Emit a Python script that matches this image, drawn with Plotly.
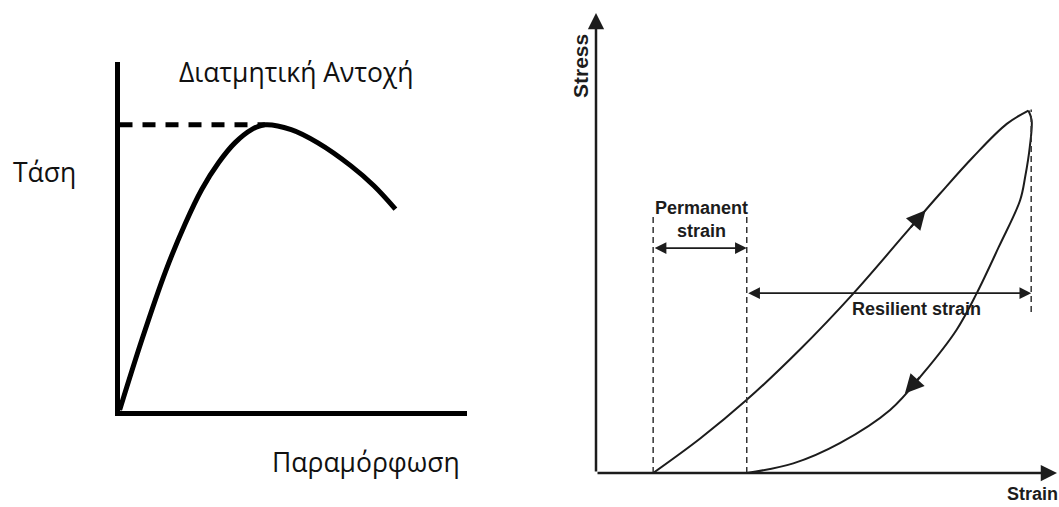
import numpy as np
import plotly.graph_objects as go

W, H = 1059, 507

# --- Left diagram: shear stress vs. deformation -------------------------
shear_strain = [0.0, 0.66, 1.32, 1.89, 2.37, 2.85, 3.32, 3.80, 4.18, 4.94, 5.71, 6.66, 7.32, 7.94]
shear_stress = [0.0, 2.08, 3.98, 5.36, 6.35, 7.11, 7.68, 8.06, 8.20, 8.06, 7.68, 7.02, 6.45, 5.78]

# --- Right diagram: repeated-load stress/strain loop --------------------
load_strain = [1.24, 2.26, 3.27, 4.43, 5.58, 6.74, 7.46, 8.18, 8.91, 9.38]
load_stress = [0.00, 0.75, 1.59, 2.69, 3.90, 5.24, 6.07, 6.87, 7.59, 7.88]
unload_strain = [9.38, 9.45, 9.41, 9.31, 9.20, 8.74, 8.26, 7.82, 7.10, 6.38, 5.29, 4.28, 3.27]
unload_stress = [7.88, 7.67, 7.09, 6.44, 5.93, 4.92, 3.91, 3.11, 2.17, 1.37, 0.65, 0.21, 0.00]

perm_start, perm_end, peak_strain = 1.24, 3.27, 9.44
perm_guide_top = 5.57
peak_guide = [3.50, 7.90]
perm_arrow_level = 4.89
resil_arrow_level = 3.91

AX_MAX = 10

greek_font = "Open Sans"
scan_font = "Liberation Sans, Arial"
ink = "#1c1c1c"

fig = go.Figure()

# Left: stress curve and dashed peak marker
fig.add_trace(go.Scatter(x=shear_strain, y=shear_stress, mode="lines",
                         line=dict(color="black", width=5, shape="spline", smoothing=1.0),
                         xaxis="x", yaxis="y", hoverinfo="skip"))
i_peak = int(np.argmax(shear_stress))
fig.add_trace(go.Scatter(x=[0, shear_strain[i_peak]], y=[shear_stress[i_peak]] * 2, mode="lines",
                         line=dict(color="black", width=5, dash="13px,10px"),
                         xaxis="x", yaxis="y", hoverinfo="skip"))

# Right: loading and unloading branches
fig.add_trace(go.Scatter(x=load_strain, y=load_stress, mode="lines",
                         line=dict(color=ink, width=2, shape="spline", smoothing=1.0),
                         xaxis="x2", yaxis="y2", hoverinfo="skip"))
fig.add_trace(go.Scatter(x=unload_strain, y=unload_stress, mode="lines",
                         line=dict(color=ink, width=2, shape="spline", smoothing=1.0),
                         xaxis="x2", yaxis="y2", hoverinfo="skip"))

# Dashed guide lines
for gx, (y0, y1) in [(perm_start, (0, perm_guide_top)),
                     (perm_end, (0, perm_guide_top)),
                     (peak_strain, tuple(peak_guide))]:
    fig.add_trace(go.Scatter(x=[gx, gx], y=[y0, y1], mode="lines",
                             line=dict(color="#333333", width=1.5, dash="6px,4px"),
                             xaxis="x2", yaxis="y2", hoverinfo="skip"))

annotations = []

# Axis arrows of the right diagram
for (hx, hy) in [(0, AX_MAX), (AX_MAX, 0)]:
    annotations.append(dict(x=hx, y=hy, ax=0, ay=0, xref="x2", yref="y2", axref="x2", ayref="y2",
                            showarrow=True, arrowhead=2, arrowsize=1.3, arrowwidth=2.5,
                            arrowcolor=ink, standoff=0, text=""))

# Dimension arrows
for (x0, x1, yy) in [(perm_start, perm_end, perm_arrow_level),
                     (perm_end, peak_strain, resil_arrow_level)]:
    annotations.append(dict(x=x1, y=yy, ax=x0, ay=yy, xref="x2", yref="y2", axref="x2", ayref="y2",
                            showarrow=True, arrowhead=2, startarrowhead=2, arrowside="end+start",
                            arrowsize=1.3, startarrowsize=1.3, arrowwidth=1.8,
                            arrowcolor=ink, standoff=0, startstandoff=0, text=""))

# Direction arrows on the loop
lx = np.array(load_strain); ly = np.array(load_stress)
ux = np.array(unload_strain[::-1]); uy = np.array(unload_stress[::-1])
for (tip, tail, xs, ys) in [(7.15, 6.80, lx, ly), (6.70, 7.05, ux, uy)]:
    annotations.append(dict(x=tip, y=float(np.interp(tip, xs, ys)),
                            ax=tail, ay=float(np.interp(tail, xs, ys)),
                            xref="x2", yref="y2", axref="x2", ayref="y2",
                            showarrow=True, arrowhead=2, arrowsize=1.9, arrowwidth=2,
                            arrowcolor=ink, standoff=0, text=""))


def label(text, px, py, family, size, color, **kw):
    return dict(text=text, x=px / W, y=1 - py / H, xref="paper", yref="paper",
                xanchor="center", yanchor="middle", showarrow=False,
                font=dict(family=family, size=size, color=color), **kw)


annotations += [
    label("Διατμητική Αντοχή", 296.5, 72, greek_font, 26.5, "#111111"),
    label("Τάση", 44, 172, greek_font, 26.5, "#111111"),
    label("Παραμόρφωση", 366, 462, greek_font, 26.5, "#111111"),
    label("<b>Stress</b>", 580, 66, scan_font, 21, ink, textangle=-90),
    label("<b>Strain</b>", 1032, 494, scan_font, 18, ink),
    dict(text="<b>Permanent<br>strain</b>", x=2.28, y=5.52, xref="x2", yref="y2",
         xanchor="center", yanchor="middle", showarrow=False,
         font=dict(family=scan_font, size=18, color=ink)),
    dict(text="<b>Resilient strain</b>", x=6.96, y=3.57, xref="x2", yref="y2",
         xanchor="center", yanchor="middle", showarrow=False,
         font=dict(family=scan_font, size=18, color=ink)),
]

hidden = dict(showgrid=False, zeroline=False, showticklabels=False, ticks="")

fig.update_layout(
    width=W, height=H, margin=dict(l=0, r=0, t=0, b=0),
    paper_bgcolor="white", plot_bgcolor="white", showlegend=False,
    xaxis=dict(domain=[119.5 / W, 467 / W], range=[0, AX_MAX], showline=True,
               linewidth=5, linecolor="black", **hidden),
    yaxis=dict(domain=[1 - 410.5 / H, 1 - 62 / H], range=[0, AX_MAX], showline=True,
               linewidth=5, linecolor="black", **hidden),
    xaxis2=dict(domain=[596 / W, 1057 / W], range=[0, AX_MAX], anchor="y2", showline=False, **hidden),
    yaxis2=dict(domain=[1 - 473 / H, 1 - 13 / H], range=[0, AX_MAX], anchor="x2", showline=False, **hidden),
    annotations=annotations,
)

fig.write_html("out.html")
